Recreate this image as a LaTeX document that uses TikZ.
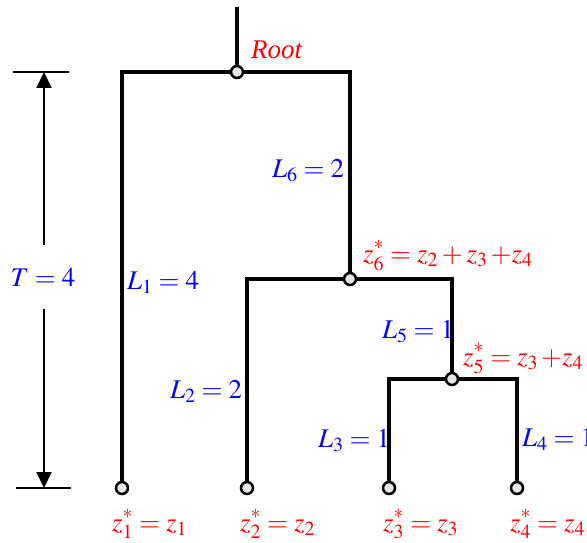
\documentclass[tikz,border=0pt]{standalone}
\usepackage{mathptmx}
\usepackage{fontspec}
\setmainfont{Liberation Serif}
\usetikzlibrary{arrows.meta,backgrounds}

\definecolor{labelred}{RGB}{255,0,0}
\definecolor{labelblue}{RGB}{0,0,255}
\definecolor{nodegray}{RGB}{230,230,230}

\newcommand{\zstar}[1]{z^{\raisebox{3pt}{$\scriptstyle *$}}_{#1}}

\tikzset{
  junc/.style={circle,draw=black,fill=nodegray,line width=2.5pt,
    inner sep=0pt,minimum size=12pt},
  branch/.style={line width=4.5pt},
  dimarrow/.style={line width=2pt,-{Triangle[length=16pt,width=15pt]}},
  lenlabel/.style={text=labelblue,anchor=base west,inner sep=0pt},
  zlabel/.style={text=labelred,anchor=base west,inner sep=0pt}
}

\begin{document}
\begin{tikzpicture}[x=1pt,y=-1pt,font=\fontsize{27}{31}\selectfont]
  \useasboundingbox (0,0) rectangle (587,543);

  % Tree nodes
  \node[junc] (root)  at (237,72)  {};
  \node[junc] (u6)    at (350,279) {};
  \node[junc] (u5)    at (452,379) {};
  \node[junc] (leaf1) at (122,488) {};
  \node[junc] (leaf2) at (247,488) {};
  \node[junc] (leaf3) at (389,488) {};
  \node[junc] (leaf4) at (517,488) {};
  \coordinate (stem) at (237,7);

  % Branches, behind the nodes
  \begin{scope}[on background layer]
    \draw[branch] (stem) -- (root.center);
    \draw[branch] (leaf1.center) |- (root.center) -| (u6.center);
    \draw[branch] (leaf2.center) |- (u6.center) -| (u5.center);
    \draw[branch] (leaf3.center) |- (u5.center) -| (leaf4.center);
  \end{scope}

  % Height T
  \coordinate (ttop) at (44,72);
  \coordinate (tbot) at (44,488);
  \draw[line width=1.5pt] (13,72) -- (69,72);
  \draw[line width=1.5pt] (16,488) -- (71,488);
  \node[text=labelblue,minimum height=64pt,inner sep=0pt] (tlab) at (43,277) {$T = 4$};
  \draw[dimarrow] (tlab.north -| ttop) -- (ttop);
  \draw[dimarrow] (tlab.south -| tbot) -- (tbot);

  % Branch lengths
  \node[lenlabel] (l6lab) at (272,177) {$L_6 = 2$};
  \node[lenlabel] (l1lab) at (127,289) {$L_1 = 4$};
  \node[lenlabel] (l5lab) at (382,338) {$L_5 = 1$};
  \node[lenlabel] (l2lab) at (170,398) {$L_2 = 2$};
  \node[lenlabel] (l3lab) at (318,447) {$L_3 = 1$};
  \node[lenlabel] (l4lab) at (522,446) {$L_4 = 1$};

  % Node values
  \node[zlabel] (rootlab) at (251,59) {\textit{Root}};
  \node[zlabel] (z6lab) at (363,262) {$\zstar{6} = z_2 + z_3\,{+}z_4$};
  \node[zlabel] (z5lab) at (463,365) {$\zstar{5} = z_3\,{+}z_4$};
  \node[zlabel] (z1lab) at (112,531) {$\zstar{1} = z_1$};
  \node[zlabel] (z2lab) at (240,531) {$\zstar{2} = z_2$};
  \node[zlabel] (z3lab) at (383,531) {$\zstar{3} = z_3$};
  \node[zlabel] (z4lab) at (510,531) {$\zstar{4} = z_4$};
\end{tikzpicture}
\end{document}
